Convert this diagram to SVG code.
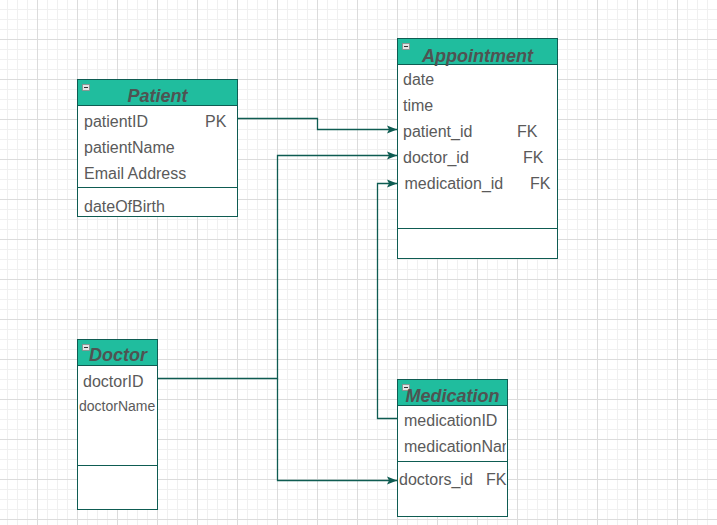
<svg xmlns="http://www.w3.org/2000/svg" width="717" height="525" viewBox="0 0 717 525">
<defs>
<style>
.box{fill:#ffffff;stroke:#0e5c52;stroke-width:1}
.hdr{fill:#20bd9e;stroke:#0e5c52;stroke-width:1}
.sep{stroke:#0e5c52;stroke-width:1;fill:none}
.title{font-family:"Liberation Sans",Arial,sans-serif;font-size:18px;font-weight:bold;font-style:italic;fill:#4f5352;text-anchor:middle}
.attr{font-family:"Liberation Sans",Arial,sans-serif;font-size:16px;fill:#5a5a5a}
.small{font-size:14px}
.conn{fill:none;stroke:#0e5c52;stroke-width:1.3}
.icon{fill:#e4e4e4;stroke:#8a8a8a;stroke-width:0.8}
</style>
<pattern id="grid" patternUnits="userSpaceOnUse" x="-3" y="-1" width="40" height="40">
<rect x="10" y="0" width="1" height="40" fill="#f0f0f0"/>
<rect x="20" y="0" width="1" height="40" fill="#f0f0f0"/>
<rect x="30" y="0" width="1" height="40" fill="#f0f0f0"/>
<rect x="0" y="10" width="40" height="1" fill="#f0f0f0"/>
<rect x="0" y="20" width="40" height="1" fill="#f0f0f0"/>
<rect x="0" y="30" width="40" height="1" fill="#f0f0f0"/>
<rect x="0" y="0" width="1" height="40" fill="#dcdcdc"/>
<rect x="0" y="0" width="40" height="1" fill="#dcdcdc"/>
</pattern>
<marker id="arr" markerUnits="userSpaceOnUse" markerWidth="12" markerHeight="10" refX="10" refY="5" orient="auto">
<path d="M0,1 L10,5 L0,9 L2,5 Z" fill="#0e5c52"/>
</marker>
<clipPath id="medclip"><rect x="398" y="406" width="108" height="110"/></clipPath>
</defs>
<rect x="0" y="0" width="717" height="525" fill="#ffffff"/>
<rect x="0" y="0" width="717" height="525" fill="url(#grid)"/>

<g id="connectors">
<path class="conn" d="M237.5 118.5 H317.5 V129.5 H397" marker-end="url(#arr)"/>
<path class="conn" d="M157.5 378.5 H277.5 V155.5 H397" marker-end="url(#arr)"/>
<path class="conn" d="M277.5 378.5 V480.5 H397" marker-end="url(#arr)"/>
<path class="conn" d="M397.5 418.5 H377.5 V183.5 H397" marker-end="url(#arr)"/>
</g>

<g id="patient">
<rect class="box" x="77.5" y="79.5" width="160" height="137"/>
<rect class="hdr" x="77.5" y="79.5" width="160" height="26"/>
<rect class="icon" x="82.5" y="84.5" width="7" height="6"/>
<line x1="84" y1="87.5" x2="88" y2="87.5" stroke="#333" stroke-width="1"/>
<text class="title" x="157.5" y="102">Patient</text>
<text class="attr" x="84" y="127">patientID</text>
<text class="attr" x="205" y="127">PK</text>
<text class="attr" x="84" y="153">patientName</text>
<text class="attr" x="84" y="179">Email Address</text>
<line class="sep" x1="77.5" y1="187.5" x2="237.5" y2="187.5"/>
<text class="attr" x="84" y="212">dateOfBirth</text>
</g>

<g id="appointment">
<rect class="box" x="397.5" y="38.5" width="160" height="220"/>
<rect class="hdr" x="397.5" y="38.5" width="160" height="26"/>
<rect class="icon" x="402.5" y="43.5" width="7" height="6"/>
<line x1="404" y1="46.5" x2="408" y2="46.5" stroke="#333" stroke-width="1"/>
<text class="title" x="477.5" y="62">Appointment</text>
<text class="attr" x="403" y="85">date</text>
<text class="attr" x="403" y="111">time</text>
<text class="attr" x="403" y="137">patient_id</text>
<text class="attr" x="517" y="137">FK</text>
<text class="attr" x="403" y="163">doctor_id</text>
<text class="attr" x="523" y="163">FK</text>
<text class="attr" x="404.5" y="189">medication_id</text>
<text class="attr" x="530" y="189">FK</text>
<line class="sep" x1="397.5" y1="228.5" x2="557.5" y2="228.5"/>
</g>

<g id="doctor">
<rect class="box" x="77.5" y="339.5" width="80" height="170"/>
<rect class="hdr" x="77.5" y="339.5" width="80" height="26"/>
<rect class="icon" x="82.5" y="344.5" width="7" height="6"/>
<line x1="84" y1="347.5" x2="88" y2="347.5" stroke="#333" stroke-width="1"/>
<text class="title" x="118" y="361">Doctor</text>
<text class="attr" x="83" y="387">doctorID</text>
<text class="attr small" x="79" y="411">doctorName</text>
<line class="sep" x1="77.5" y1="465.5" x2="157.5" y2="465.5"/>
</g>

<g id="medication">
<rect class="box" x="397.5" y="379.5" width="110" height="137"/>
<rect class="hdr" x="397.5" y="379.5" width="110" height="26"/>
<rect class="icon" x="402.5" y="384.5" width="7" height="6"/>
<line x1="404" y1="387.5" x2="408" y2="387.5" stroke="#333" stroke-width="1"/>
<text class="title" x="452.5" y="402">Medication</text>
<g clip-path="url(#medclip)">
<text class="attr" x="404" y="426">medicationID</text>
<text class="attr" x="404" y="452">medicationName</text>
</g>
<line class="sep" x1="397.5" y1="461.5" x2="507.5" y2="461.5"/>
<text class="attr" x="399" y="485">doctors_id</text>
<text class="attr" x="486" y="485">FK</text>
</g>
</svg>
